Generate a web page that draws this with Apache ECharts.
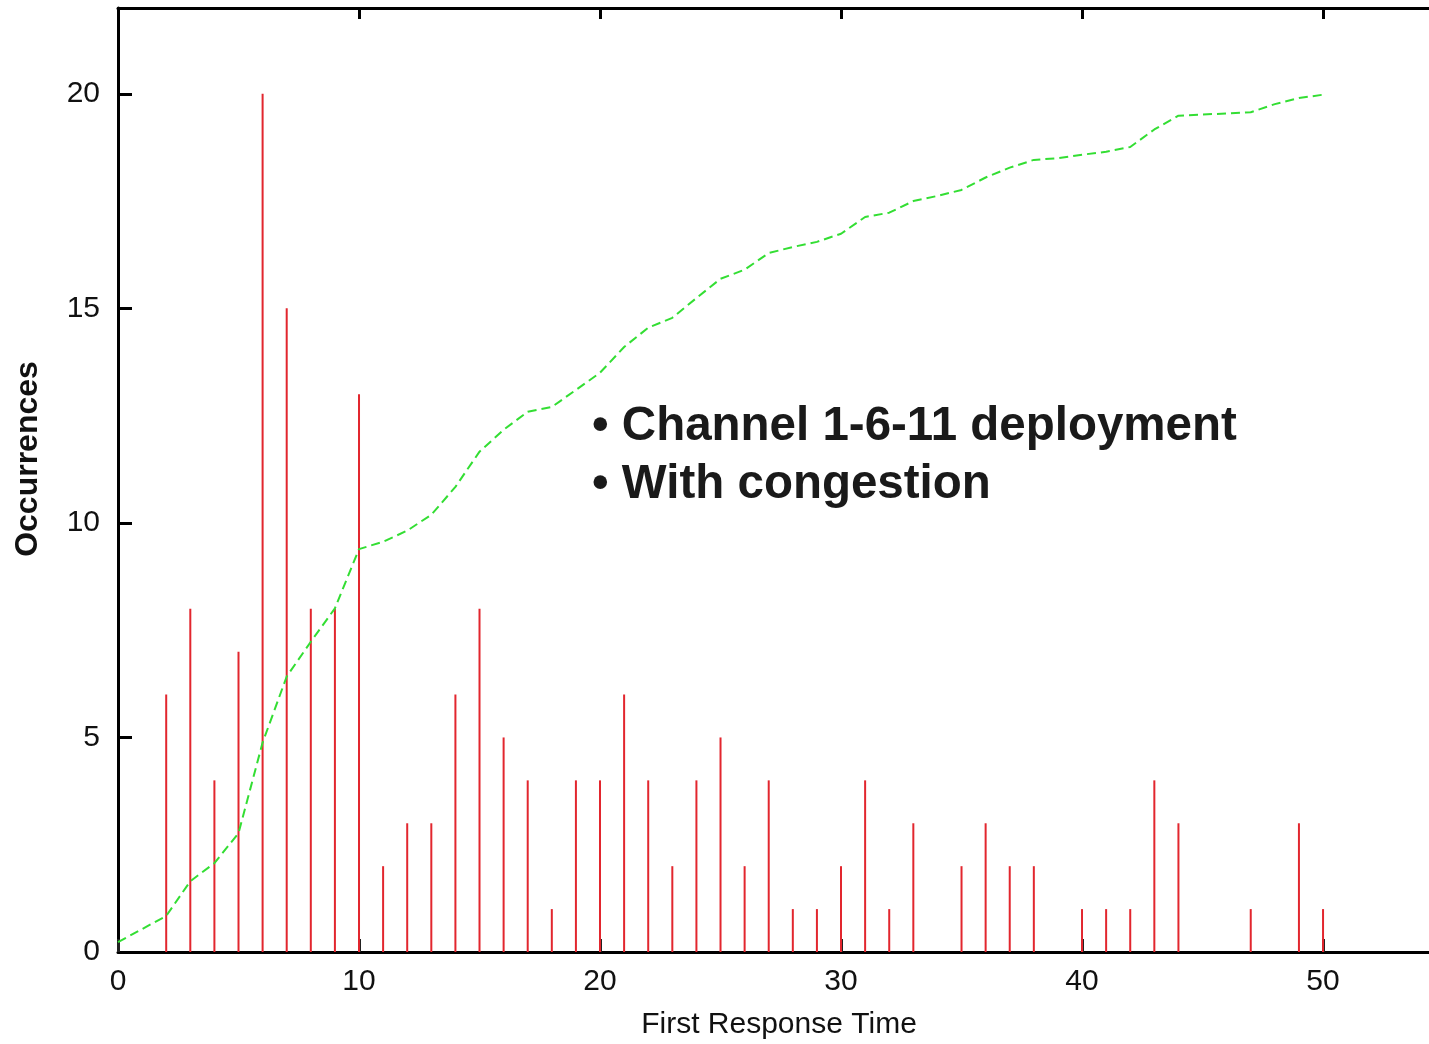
<!DOCTYPE html>
<html>
<head>
<meta charset="utf-8">
<script src="https://cdn.jsdelivr.net/npm/echarts@6/dist/echarts.min.js"></script>
<style>
html,body{margin:0;padding:0;background:#fff;overflow:hidden;}
#chart{width:1429px;height:1044px;}
</style>
</head>
<body>
<div id="chart"></div>
<script>
// Occurrences (impulses) by first response time
const barX = [2,3,4,5,6,7,8,9,10,11,12,13,14,15,16,17,18,19,20,21,22,23,24,25,26,27,28,29,30,31,32,33,35,36,37,38,40,41,42,43,44,47,49,50];
const barY = [6,8,4,7,20,15,8,8,13,2,3,3,6,8,5,4,1,4,4,6,4,2,4,5,2,4,1,1,2,4,1,3,2,3,2,2,1,1,1,4,3,1,3,1];
// Cumulative (scaled) dashed curve
const cumX = [0,2,3,4,5,6,7,8,9,10,11,12,13,14,15,16,17,18,19,20,21,22,23,24,25,26,27,28,29,30,31,32,33,34,35,36,37,38,39,40,41,42,43,44,45,46,47,48,49,50];
const cumY = [0.23,0.84,1.65,2.07,2.77,4.88,6.42,7.23,8.01,9.39,9.56,9.82,10.19,10.84,11.66,12.17,12.59,12.7,13.1,13.5,14.1,14.55,14.78,15.24,15.69,15.9,16.29,16.43,16.55,16.74,17.13,17.23,17.5,17.62,17.76,18.05,18.28,18.46,18.5,18.58,18.65,18.76,19.17,19.49,19.52,19.54,19.57,19.76,19.9,19.98];
const xTicks = [0,10,20,30,40,50];
const yTicks = [0,5,10,15,20];
const yTitle = 'Occurrences';
const annotation = ['\u2022 Channel 1-6-11 deployment', '\u2022 With congestion'];

const FONT = '"Liberation Sans", Arial, Helvetica, sans-serif';
const chart = echarts.init(document.getElementById('chart'));
const axisLineStyle = {color:'#000', width:3};
chart.setOption({
  animation:false,
  backgroundColor:'#fff',
  grid:{left:118, width:1320, top:8, height:944, containLabel:false, outerBoundsMode:'none'},
  xAxis:[{
    type:'value', min:0, max:54.77, interval:10, position:'bottom',
    axisLine:{show:true, onZero:false, lineStyle:axisLineStyle},
    axisTick:{show:true, inside:true, length:13, lineStyle:{color:'#222', width:3}},
    axisLabel:{fontFamily:FONT, fontSize:30, color:'#111', margin:15,
      formatter:v=>xTicks.includes(v)?String(v):''},
    splitLine:{show:false}
  },{
    type:'value', min:0, max:54.77, interval:10, position:'top',
    axisLine:{show:true, onZero:false, lineStyle:axisLineStyle},
    axisTick:{show:true, inside:true, length:11, lineStyle:{color:'#000', width:3}},
    axisLabel:{show:false}, splitLine:{show:false}
  }],
  yAxis:{
    type:'value', min:0, max:22, interval:5,
    axisLine:{show:true, onZero:false, lineStyle:axisLineStyle},
    axisTick:{show:true, inside:true, length:14, lineStyle:{color:'#000', width:3}},
    axisLabel:{fontFamily:FONT, fontSize:30, color:'#111', margin:18,
      formatter:v=>yTicks.includes(v)?String(v):''},
    splitLine:{show:false}
  },
  series:[{
    type:'bar', xAxisIndex:0,
    data: barX.map((x,i)=>[x, barY[i]]),
    barWidth:2,
    itemStyle:{color:'#e2262e'},
    z:2
  },{
    type:'line', xAxisIndex:0,
    data: cumX.map((x,i)=>[x, cumY[i]]),
    showSymbol:false, symbol:'none',
    lineStyle:{color:'#33de33', width:2, type:[9,5]},
    z:3
  }],
  graphic:[{
    type:'text', x:28, y:459, rotation:Math.PI/2, z:10,
    style:{text:yTitle, font:'bold 32px '+FONT, fill:'#111', align:'center', verticalAlign:'middle'}
  },{
    type:'text', x:779, y:1025, z:10,
    style:{text:'First Response Time', font:'30px '+FONT, fill:'#111', align:'center', verticalAlign:'middle'}
  },{
    type:'text', left:592, top:403, z:10,
    style:{text:annotation[0], font:'bold 47.5px '+FONT, fill:'#1a1a1a'}
  },{
    type:'text', left:592, top:461, z:10,
    style:{text:annotation[1], font:'bold 47.5px '+FONT, fill:'#1a1a1a'}
  }]
});
</script>
</body>
</html>
